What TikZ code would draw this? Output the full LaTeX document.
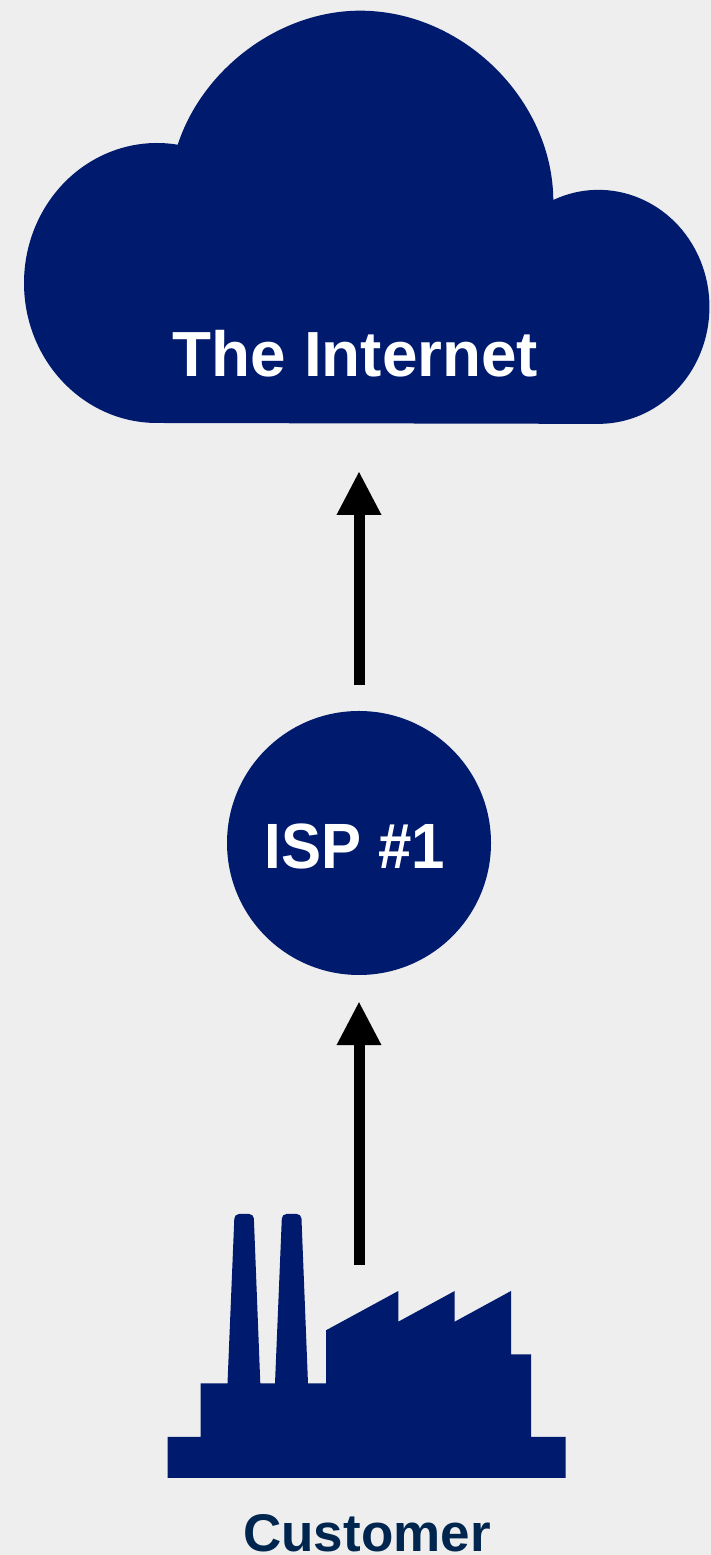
\documentclass[tikz,border=0pt]{standalone}
\usepackage{fontspec}
\setmainfont{Liberation Sans}
\usetikzlibrary{arrows.meta}
\definecolor{bgc}{HTML}{EEEEEE}
\definecolor{navy}{HTML}{001A6E}
\definecolor{labelc}{HTML}{00264F}
\tikzset{
  shapefill/.style={fill=navy,draw=none},
  flowarrow/.style={draw=black,line width=11pt,-{Triangle[width=41.5pt,length=44pt]}},
  whitelabel/.style={text=white,font=\bfseries,inner sep=0pt,anchor=base},
}
\begin{document}
\begin{tikzpicture}[x=1pt,y=1pt]
\useasboundingbox (0,0) rectangle (711,1555);
\fill[bgc] (0,0) rectangle (711,1555);
% cloud
\path[shapefill] (157,1132)
  arc[start angle=270,end angle=81,x radius=133pt,y radius=140pt]
  -- (177.3,1409)
  .. controls (201.8,1485.9) and (279.3,1544.3) .. (360,1544.3)
  .. controls (463,1544.3) and (552.5,1455) .. (553.3,1355)
  arc[start angle=114,end angle=-90,x radius=111pt,y radius=117pt]
  -- cycle;
\node[whitelabel,font=\fontsize{63.8}{70}\selectfont\bfseries] (internet) at (355.5,1178) {The Internet};
% ISP
\node[circle,shapefill,minimum size=264pt,inner sep=0pt] (isp) at (359,712) {};
\node[whitelabel,font=\fontsize{64}{70}\selectfont\bfseries,xscale=0.9375] (isplabel) at (355,686.7) {ISP \#1};
% factory
\path[shapefill] (167.5,77) -- (167.5,118) -- (200.7,118) -- (200.7,171.5) -- (227.5,171.5)
  [rounded corners=4.5pt] -- (234.5,341) -- (253.7,341) [sharp corners] -- (260.3,171.5)
  -- (275,171.5)
  [rounded corners=4.5pt] -- (282,341) -- (301.3,341) [sharp corners] -- (308,171.5)
  -- (326,171.5) -- (326,224.7) -- (398.3,264) -- (398.3,233.3) -- (454.7,264) -- (454.7,233.3)
  -- (511,264) -- (511,200.7) -- (531,200.7) -- (531,118) -- (565.7,118) -- (565.7,77) -- cycle;
\node[text=labelc,inner sep=0pt,anchor=base,font=\fontsize{53}{58}\selectfont\bfseries] (customer) at (367,3) {Customer};
% connectors
\coordinate (cloudtip) at (359,1084);
\coordinate (factorytop) at (359,290);
\draw[flowarrow,shorten <=26pt] (isp.north) -- (cloudtip);
\draw[flowarrow,shorten >=26pt] (factorytop) -- (isp.south);
\end{tikzpicture}
\end{document}
